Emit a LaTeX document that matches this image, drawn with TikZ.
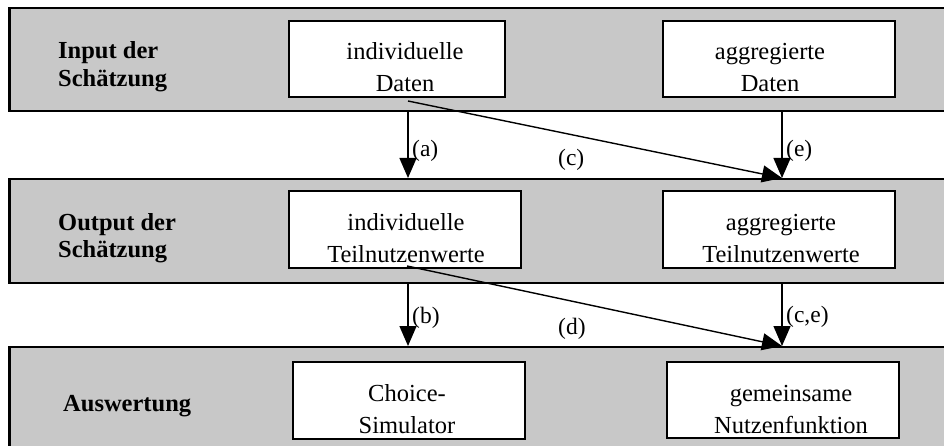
\documentclass[tikz,border=0pt]{standalone}
\usepackage{fontspec}
\setmainfont{Liberation Serif}
\usetikzlibrary{arrows.meta}
\definecolor{bandgray}{RGB}{200,200,200}

\begin{document}
\begin{tikzpicture}[x=1pt,y=-1pt,
  band/.style={draw=black, line width=2.5pt, fill=bandgray},
  box/.style={draw=black, line width=2pt, fill=white, inner sep=0pt, outer sep=0pt},
  boxtext/.style={font=\fontsize{24.5}{32}\selectfont, align=center, inner sep=0pt, anchor=base},
  bandlabel/.style={font=\fontsize{24.5}{30}\selectfont\bfseries, align=left, inner sep=0pt, anchor=base west},
  flow/.style={line width=1.4pt, -{Triangle[length=20pt,width=17pt]}},
  tag/.style={font=\fontsize{23.5}{28}\selectfont, inner sep=0pt, anchor=base west},
]
\useasboundingbox (0,0) rectangle (944,446);
\clip (0,0) rectangle (944,446);

% three horizontal bands (open to the right and at the bottom)
\path[band] (9.5,8) rectangle (975,111);
\path[band] (9.5,179) rectangle (975,283);
\path[band] (9.5,347) rectangle (975,480);

% band titles (anchored at the baseline of the last line)
\node[bandlabel] (l1) at (58,87) {Input der\\[-2pt]Schätzung};
\node[bandlabel] (l2) at (58,258) {Output der\\[-2pt]Schätzung};
\node[bandlabel] (l3) at (63,411) {Auswertung};

% boxes
\node[box, minimum width=216pt, minimum height=76pt] (indD) at (397,59) {};
\node[box, minimum width=232pt, minimum height=76pt] (aggD) at (779,59) {};
\node[box, minimum width=232pt, minimum height=77pt] (indT) at (405,229.5) {};
\node[box, minimum width=232pt, minimum height=77pt] (aggT) at (779,229.5) {};
\node[box, minimum width=232pt, minimum height=77pt] (sim)  at (409,400.5) {};
\node[box, minimum width=232pt, minimum height=76pt] (nutz) at (783,400) {};

% box texts (anchored at the baseline of the last line)
\node[boxtext] (indDt) at (405,92) {individuelle\\Daten};
\node[boxtext] (aggDt) at (770,92) {aggregierte\\Daten};
\node[boxtext] (indTt) at (406,262) {individuelle\\Teilnutzenwerte};
\node[boxtext] (aggTt) at (781,262) {aggregierte\\Teilnutzenwerte};
\node[boxtext] (simt)  at (407,433) {Choice-\\Simulator};
\node[boxtext] (nutzt) at (791,433) {gemeinsame\\Nutzenfunktion};

% connector end points
\coordinate (a0) at (408,111);
\coordinate (a1) at (408,178);
\coordinate (e0) at (782,111);
\coordinate (e1) at (782,178);
\coordinate (c0) at (408,101);
\coordinate (b0) at (408,283);
\coordinate (b1) at (408,346);
\coordinate (f0) at (782,283);
\coordinate (f1) at (782,346);
\coordinate (d0) at (407,266);

% connectors
\draw[flow] (a0) -- (a1);
\draw[flow] (e0) -- (e1);
\draw[flow] (c0) -- (e1);
\draw[flow] (b0) -- (b1);
\draw[flow] (f0) -- (f1);
\draw[flow] (d0) -- (f1);

% connector tags
\node[tag] (ta) at (412,157) {(a)};
\node[tag] (te) at (786,157) {(e)};
\node[tag] (tc) at (558,166) {(c)};
\node[tag] (tb) at (412,323) {(b)};
\node[tag] (td) at (558,334) {(d)};
\node[tag] (tce) at (786,322) {(c,e)};
\end{tikzpicture}
\end{document}
